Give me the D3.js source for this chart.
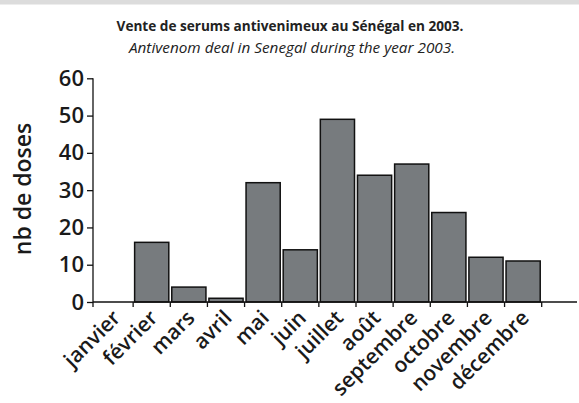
<!DOCTYPE html>
<html>
<head>
<meta charset="utf-8">
<script src="https://cdn.jsdelivr.net/npm/d3@7"></script>
<style>
  body { margin: 0; background: #fff; }
  svg { display: block; font-family: "Open Sans", "Noto Sans", sans-serif; }
</style>
</head>
<body>
<div id="chart"></div>
<script>
// données
const months = ["janvier", "février", "mars", "avril", "mai", "juin", "juillet",
  "août", "septembre", "octobre", "novembre", "décembre"];
const doses = [0, 16, 4, 1, 32, 14, 49, 34, 37, 24, 12, 11];
const yTicks = [0, 10, 20, 30, 40, 50, 60];

const width = 579, height = 403;
const svg = d3.select("#chart").append("svg")
  .attr("width", width)
  .attr("height", height);

// bandeau gris en haut
svg.append("rect")
  .attr("x", 0).attr("y", 0)
  .attr("width", width).attr("height", 4.5)
  .attr("fill", "#dcdcdc");

svg.append("text")
  .attr("x", 290).attr("y", 31)
  .attr("text-anchor", "middle")
  .attr("font-size", 13.6)
  .attr("font-weight", 700)
  .attr("fill", "#222")
  .text("Vente de serums antivenimeux au Sénégal en 2003.");

svg.append("text")
  .attr("x", 292).attr("y", 53)
  .attr("text-anchor", "middle")
  .attr("font-size", 15.3)
  .attr("font-style", "italic")
  .attr("font-weight", 400)
  .attr("fill", "#222")
  .text("Antivenom deal in Senegal during the year 2003.");

const x0 = 93, xEnd = 577;
const yScale = d3.scaleLinear().domain([0, 60]).range([302, 78.3]);
const xScale = d3.scaleBand().domain(months).range([96, 541.7]).paddingInner(0.08).paddingOuter(0.04);

// barres
svg.selectAll(".bar")
  .data(months.map((m, i) => ({ month: m, value: doses[i] })).filter(d => d.value > 0))
  .enter()
  .append("rect")
  .attr("class", "bar")
  .attr("x", d => xScale(d.month))
  .attr("y", d => yScale(d.value))
  .attr("width", xScale.bandwidth())
  .attr("height", d => yScale(0) - yScale(d.value))
  .attr("fill", "#777b7e")
  .attr("stroke", "#111")
  .attr("stroke-width", 1.5);

// axe y
const yAxis = svg.append("g")
  .attr("transform", `translate(${x0},0)`)
  .call(d3.axisLeft(yScale).tickValues(yTicks).tickSize(6).tickPadding(3).tickFormat(d3.format("d")));
yAxis.select(".domain").attr("stroke", "#111").attr("stroke-width", 1.3)
  .attr("d", `M0,${yScale(60)}V${yScale(0) + 5}`);
yAxis.selectAll(".tick line").attr("stroke", "#111").attr("stroke-width", 1.3);
yAxis.selectAll("text")
  .attr("font-family", "'Open Sans', sans-serif")
  .attr("font-size", 22)
  .attr("font-weight", 600)
  .attr("fill", "#1a1a1a");

// axe x
const step = xScale.step();
const xAxis = svg.append("g").attr("transform", `translate(0,${yScale(0)})`);
xAxis.append("line")
  .attr("x1", x0).attr("x2", xEnd)
  .attr("y1", 0).attr("y2", 0)
  .attr("stroke", "#111").attr("stroke-width", 1.3);
xAxis.selectAll(".xtick")
  .data(months)
  .enter()
  .append("line")
  .attr("class", "xtick")
  .attr("x1", d => xScale(d) + xScale.bandwidth() + step * 0.04)
  .attr("x2", d => xScale(d) + xScale.bandwidth() + step * 0.04)
  .attr("y1", 0).attr("y2", 5)
  .attr("stroke", "#111").attr("stroke-width", 1.3);
xAxis.selectAll(".xlabel")
  .data(months)
  .enter()
  .append("text")
  .attr("class", "xlabel")
  .attr("transform", d => `translate(${xScale(d) + xScale.bandwidth() / 2 + 2},12) rotate(-45)`)
  .attr("text-anchor", "end")
  .attr("dy", "0.35em")
  .attr("font-size", 21)
  .attr("font-weight", 600)
  .attr("fill", "#1a1a1a")
  .text(d => d);

// titre de l'axe y
svg.append("text")
  .attr("transform", "translate(31,189) rotate(-90)")
  .attr("text-anchor", "middle")
  .attr("font-size", 23)
  .attr("font-weight", 600)
  .attr("fill", "#1a1a1a")
  .text("nb de doses");
</script>
</body>
</html>
